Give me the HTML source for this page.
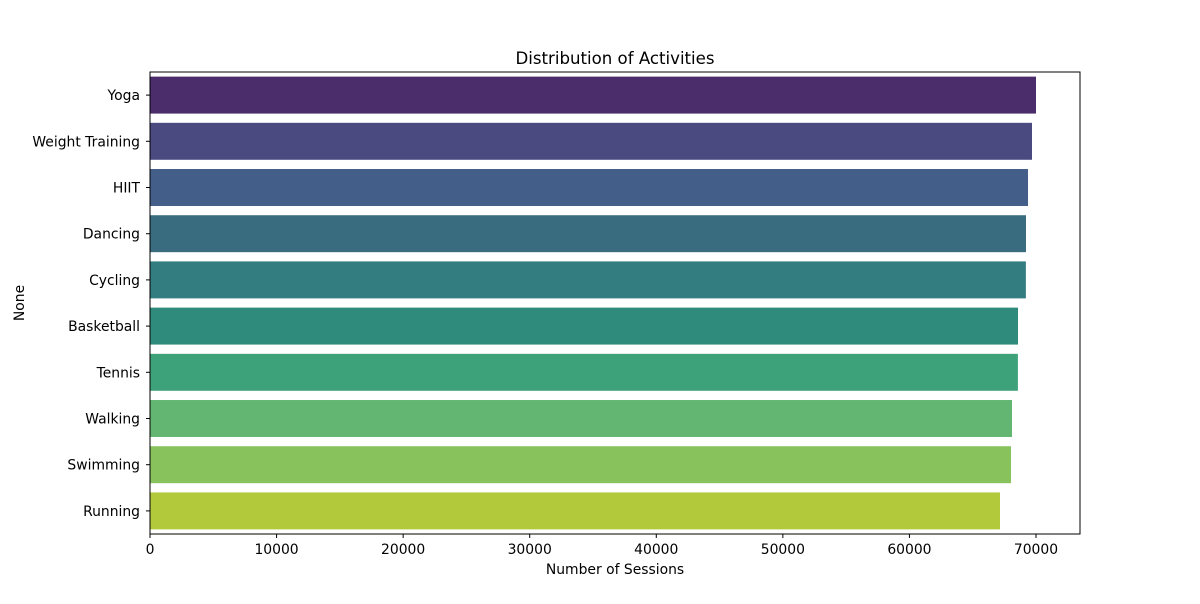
<!DOCTYPE html>
<html><head><meta charset="utf-8"><style>
body{margin:0;background:#fff;font-family:"DejaVu Sans",sans-serif}
</style></head><body>
<svg id="chart" width="1200" height="600" xmlns="http://www.w3.org/2000/svg" font-family="DejaVu Sans, sans-serif">
<text x="615" y="64" text-anchor="middle" font-size="16.6">Distribution of Activities</text>
<text x="615" y="574" text-anchor="middle" font-size="13.9">Number of Sessions</text>
<text transform="translate(24,303) rotate(-90)" text-anchor="middle" font-size="13.9">None</text>
<g id="bars"></g><g id="xt"></g><g id="yt"></g>
<rect x="150" y="72" width="930" height="462" fill="none" stroke="#000" stroke-width="1"/>
</svg>
<script>
const categories=["Yoga","Weight Training","HIIT","Dancing","Cycling","Basketball","Tennis","Walking","Swimming","Running"];
const sessions=[70000,69684,69368,69210,69200,68578,68570,68104,68025,67156];
const colors=["#4a2d6a","#4a4a80","#435e88","#3a6c80","#337c80","#2f8b7c","#3da179","#63b672","#88c25c","#b2c93c"];
const xTicks=[0,10000,20000,30000,40000,50000,60000,70000];
const NS="http://www.w3.org/2000/svg";
const x0=150,y0=72,h=462,xMax=73477,w=930;
const xs=v=>x0+v/xMax*w;
const band=h/categories.length;
const mk=(t,a)=>{const e=document.createElementNS(NS,t);for(const k in a)e.setAttribute(k,a[k]);return e;};
categories.forEach((c,i)=>{
 const r=mk("rect",{x:x0,y:y0+band*i+band*0.1,width:xs(sessions[i])-x0,height:band*0.8,fill:colors[i]});
 
 
 document.getElementById('bars').appendChild(r);
 const yc=y0+band*(i+0.5);
 const tk=mk("line",{x1:x0-4,x2:x0,y1:yc,y2:yc,stroke:"#000"});
 
 
 document.getElementById('yt').appendChild(tk);
 const t=mk("text",{x:x0-10,y:yc+5,"text-anchor":"end","font-size":"13.9"});
 t.textContent=c;
 
 
 document.getElementById('yt').appendChild(t);
});
xTicks.forEach(v=>{
 const x=xs(v);
 const tk=mk("line",{x1:x,x2:x,y1:534,y2:538,stroke:"#000"});
 
 
 document.getElementById('xt').appendChild(tk);
 const t=mk("text",{x:x,y:554,"text-anchor":"middle","font-size":"13.9"});
 t.textContent=v;
 
 
 document.getElementById('xt').appendChild(t);
});
</script>
</body></html>
